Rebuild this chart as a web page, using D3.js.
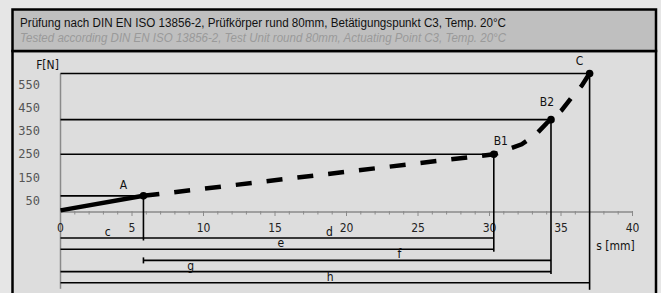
<!DOCTYPE html>
<meta charset="utf-8">
<style>

body {
  margin: 0;
  background: #e6e6e6;
}

text {
  font: 12px "DejaVu Sans Condensed", sans-serif;
  fill: #111;
}

.title {
  font: 12.5px "Liberation Sans Narrow", sans-serif;
}

.subtitle {
  font: italic 12.5px "Liberation Sans Narrow", sans-serif;
  fill: #9a9a9a;
}

.ytick {
  font: 12px "DejaVu Sans Mono", monospace;
  fill: #555;
  text-anchor: end;
}

.xtick {
  text-anchor: middle;
  fill: #222;
}

.axis {
  stroke: #8a8a8a;
  stroke-width: 1.5px;
  fill: none;
}

.ref {
  stroke: #000;
  stroke-width: 1.6px;
  fill: none;
}

.curve {
  fill: none;
  stroke: #000;
  stroke-width: 4.5px;
}

.curve.dashed {
  stroke-dasharray: 16,15;
}

</style>
<svg width="661" height="293"></svg>
<script src="https://d3js.org/d3.v7.min.js"></script>
<script>

// Values
var titleDe = "Prüfung nach DIN EN ISO 13856-2, Prüfkörper rund 80mm, Betätigungspunkt C3, Temp. 20°C";
var titleEn = "Tested according DIN EN ISO 13856-2, Test Unit round 80mm, Actuating Point C3, Temp. 20°C";

var pointNames = ["A", "B1", "B2", "C"];
var pointS = [5.8, 30.3, 34.3, 37.0];
var pointF = [70, 250, 400, 600];

// force/travel curve: solid part up to A, dashed afterwards
var solidS = [0, 5.8];
var solidF = [7, 70];
var dashS = [5.8, 30.3, 30.85, 31.3, 32.25, 33.2, 34.0, 34.3, 35.05, 35.7, 36.45, 37.0];
var dashF = [70, 250, 260, 272, 293, 333, 385, 400, 441, 493, 547, 600];

var yTicks = [50, 150, 250, 350, 450, 550];
var xTicks = [0, 5, 10, 15, 20, 25, 30, 35, 40];

// travel dimensions under the axis
var dimNames = ["c", "d", "e", "f", "g", "h"];
var dimFrom = ["0", "A", "0", "A", "0", "0"];
var dimTo = ["A", "B1", "B1", "B2", "B2", "C"];
var dimRow = [0, 0, 1, 2, 3, 4];
var dimLabelS = [3.3, 18.8, 15.4, 23.7, 9.1, 18.85];

var svg = d3.select("svg");

var x = d3.scaleLinear().domain([0, 40]).range([60.5, 632.5]),
    y = d3.scaleLinear().domain([0, 550]).range([212, 85]);

var rowY = function(r) { return 238 + r * 11.2; };
var sOf = function(name) { return name === "0" ? 0 : pointS[pointNames.indexOf(name)]; };

// frame
svg.append("rect")
    .attr("x", 12.5).attr("y", 51)
    .attr("width", 643.5).attr("height", 260)
    .attr("fill", "#dddddd")
    .attr("stroke", "#000").attr("stroke-width", 2.5);

svg.append("rect")
    .attr("x", 12.5).attr("y", 9.5)
    .attr("width", 643.5).attr("height", 41.5)
    .attr("fill", "#bfbfbf")
    .attr("stroke", "#000").attr("stroke-width", 2.5);

svg.append("text").attr("class", "title")
    .attr("x", 20).attr("y", 27)
    .attr("textLength", 486).attr("lengthAdjust", "spacingAndGlyphs")
    .text(titleDe);

svg.append("text").attr("class", "subtitle")
    .attr("x", 20).attr("y", 42)
    .attr("textLength", 486).attr("lengthAdjust", "spacingAndGlyphs")
    .text(titleEn);

var g = svg.append("g");

// axes
var lastRow = d3.max(dimRow);

g.append("line").attr("class", "axis")
    .attr("x1", x(0)).attr("x2", x(0))
    .attr("y1", y(600)).attr("y2", rowY(lastRow) + 6);

g.append("line").attr("class", "axis")
    .attr("x1", x(0)).attr("x2", x(40))
    .attr("y1", y(0)).attr("y2", y(0));

g.selectAll(".minor")
    .data(d3.range(0, 41))
  .enter().append("line")
    .attr("class", "axis")
    .style("stroke-width", 1)
    .attr("x1", function(d) { return x(d); })
    .attr("x2", function(d) { return x(d); })
    .attr("y1", y(0) - 1)
    .attr("y2", function(d) { return y(0) + (d % 5 === 0 ? 4 : 2.5); });

g.selectAll(".ytick")
    .data(yTicks)
  .enter().append("text")
    .attr("class", "ytick")
    .attr("x", 40)
    .attr("y", function(d) { return y(d); })
    .attr("dy", ".35em")
    .text(function(d) { return d; });

g.selectAll(".xtick")
    .data(xTicks)
  .enter().append("text")
    .attr("class", "xtick")
    .attr("x", function(d) { return x(d); })
    .attr("y", y(0) + 20)
    .text(function(d) { return d; });

g.append("text")
    .attr("x", x(0) - 13).attr("y", 69)
    .attr("text-anchor", "middle")
    .text("F[N]");

g.append("text")
    .attr("x", x(40) - 17).attr("y", 250)
    .attr("text-anchor", "middle")
    .text("s [mm]");

// reference lines from the y axis to each point and down to its dimension row
pointNames.forEach(function(name, i) {
  var depth = d3.max(dimRow.filter(function(r, j) { return dimTo[j] === name; }));
  var ext = depth === lastRow ? 7 : 2.5;
  g.append("line").attr("class", "ref")
      .attr("x1", x(0)).attr("x2", x(pointS[i]))
      .attr("y1", y(pointF[i])).attr("y2", y(pointF[i]));
  g.append("line").attr("class", "ref")
      .attr("x1", x(pointS[i])).attr("x2", x(pointS[i]))
      .attr("y1", y(pointF[i])).attr("y2", rowY(depth) + ext);
});

// dimension lines
dimNames.forEach(function(name, i) {
  var y0 = rowY(dimRow[i]);
  g.append("line").attr("class", "ref")
      .attr("x1", x(sOf(dimFrom[i]))).attr("x2", x(sOf(dimTo[i])))
      .attr("y1", y0).attr("y2", y0);
  if (dimFrom[i] !== "0" && dimRow[i] > 0) {
    g.append("line").attr("class", "ref")
        .attr("x1", x(sOf(dimFrom[i]))).attr("x2", x(sOf(dimFrom[i])))
        .attr("y1", y0 - 3).attr("y2", y0 + 3);
  }
  g.append("text")
      .attr("x", x(dimLabelS[i])).attr("y", y0 - 2)
      .attr("text-anchor", "middle")
      .text(name);
});

// curve
var line = d3.line()
    .x(function(d) { return x(d[0]); })
    .y(function(d) { return y(d[1]); });

g.append("path").attr("class", "curve")
    .attr("d", line(d3.zip(solidS, solidF)));

g.append("path").attr("class", "curve dashed")
    .attr("d", line(d3.zip(dashS, dashF)));

// points and labels
var labelOffset = {A: [-20, -7], B1: [7, -9], B2: [-4, -14], C: [-10, -8]};

pointNames.forEach(function(name, i) {
  g.append("circle")
      .attr("cx", x(pointS[i])).attr("cy", y(pointF[i]))
      .attr("r", 3.8);
  g.append("text")
      .attr("x", x(pointS[i]) + labelOffset[name][0])
      .attr("y", y(pointF[i]) + labelOffset[name][1])
      .attr("text-anchor", "middle")
      .text(name);
});

</script>
